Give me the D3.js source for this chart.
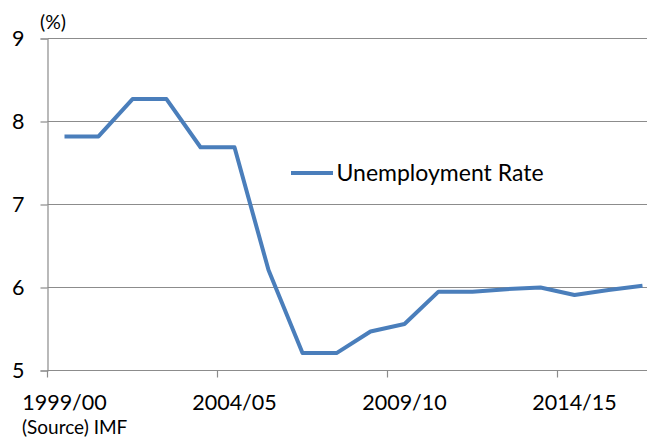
<!DOCTYPE html>
<html>
<head>
<meta charset="utf-8">
<script src="https://cdn.jsdelivr.net/npm/d3@7"></script>
<style>
  body { margin: 0; background: #fff; }
  svg { display: block; font-family: Lato, "Open Sans", sans-serif; }
</style>
</head>
<body>
<div id="chart"></div>
<script>
'use strict'

// fiscal years, 1999/00 .. 2016/17
const years = ['1999/00', '2000/01', '2001/02', '2002/03', '2003/04', '2004/05',
  '2005/06', '2006/07', '2007/08', '2008/09', '2009/10', '2010/11', '2011/12',
  '2012/13', '2013/14', '2014/15', '2015/16', '2016/17']
// unemployment rate (%)
const rate = [7.82, 7.82, 8.27, 8.27, 7.69, 7.69, 6.21, 5.21, 5.21, 5.47,
  5.56, 5.95, 5.95, 5.98, 6.0, 5.91, 5.97, 6.02]
const yTicks = [5, 6, 7, 8, 9]
const xLabels = ['1999/00', '2004/05', '2009/10', '2014/15']

const W = 647, H = 438
const margin = { top: 38.5, left: 47.5 }
const bandW = 34
const width = bandW * years.length, height = 332

const svg = d3.select('#chart').append('svg')
  .attr('width', W).attr('height', H)

const g = svg.append('g')
  .attr('transform', `translate(${margin.left}, ${margin.top})`)

const x = d3.scaleBand().domain(years).range([0, width])
const y = d3.scaleLinear().domain([5, 9]).range([height, 0])

// horizontal gridlines
g.selectAll('line.grid')
  .data(yTicks)
  .join('line')
  .attr('class', 'grid')
  .attr('x1', 0).attr('x2', width)
  .attr('y1', d => y(d)).attr('y2', d => y(d))
  .attr('stroke', '#8c8c8c').attr('stroke-width', 1.2)

// y axis
const yAxis = g.append('g')
  .call(d3.axisLeft(y).tickValues(yTicks).tickSize(7).tickPadding(16).tickFormat(d3.format('d')))
yAxis.select('.domain').attr('stroke', '#8c8c8c').attr('stroke-width', 1.2)
yAxis.selectAll('.tick line').attr('stroke', '#8c8c8c').attr('stroke-width', 1.2)
yAxis.selectAll('.tick text').attr('fill', '#000').style('font-size', '21.5px')
  .style('font-family', 'Lato, sans-serif')

// x axis ticks between categories, every 5th
const boundaries = years.filter((d, i) => i % 5 === 0)
g.selectAll('line.xtick')
  .data(boundaries)
  .join('line')
  .attr('class', 'xtick')
  .attr('x1', d => x(d)).attr('x2', d => x(d))
  .attr('y1', height).attr('y2', height + 7)
  .attr('stroke', '#8c8c8c').attr('stroke-width', 1.2)

g.selectAll('text.xlab')
  .data(xLabels)
  .join('text')
  .attr('class', 'xlab')
  .attr('x', d => x(d) + x.bandwidth() / 2)
  .attr('y', height + 39)
  .attr('text-anchor', 'middle')
  .style('font-size', '21.5px')
  .text(d => d)

// the series
const line = d3.line()
  .x((d, i) => x(years[i]) + x.bandwidth() / 2)
  .y(d => y(d))

g.append('path')
  .datum(rate)
  .attr('d', line)
  .attr('fill', 'none')
  .attr('stroke', '#4a7ebb')
  .attr('stroke-width', 4)
  .attr('stroke-linejoin', 'round')

// legend
const leg = svg.append('g').attr('transform', 'translate(291, 173)')
leg.append('line').attr('x1', 0).attr('x2', 42).attr('y1', 0).attr('y2', 0)
  .attr('stroke', '#4a7ebb').attr('stroke-width', 4)
leg.append('text').attr('x', 45.5).attr('y', 8)
  .style('font-size', '23px').text('Unemployment Rate')

// unit and source
svg.append('text').attr('x', 40).attr('y', 29)
  .style('font-size', '19.5px').text('(%)')
svg.append('text').attr('x', 22).attr('y', 434)
  .style('font-size', '19px').text('(Source) IMF')
</script>
</body>
</html>
